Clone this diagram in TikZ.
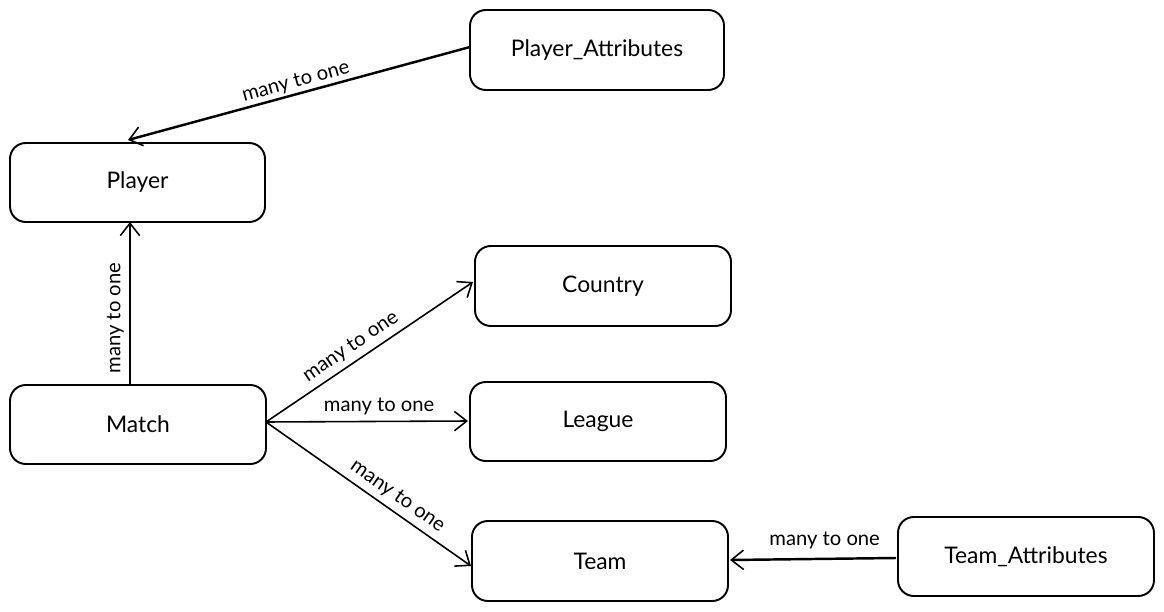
\documentclass[tikz,border=0pt]{standalone}
\usepackage{fontspec}
\setmainfont{Lato}
\usetikzlibrary{arrows.meta}
\begin{document}
\begin{tikzpicture}[x=0.02cm,y=-0.02cm,
  box/.style={draw,line width=1.1pt,rounded corners=9pt,inner sep=0pt,
    font=\fontsize{13}{15}\selectfont},
  rel/.style={line width=0.9pt,-{Straight Barb[length=7pt,width=11pt,line width=0.9pt]}},
  lbl/.style={font=\fontsize{11.5}{13}\selectfont,inner sep=1pt}]
\useasboundingbox (0,0) rectangle (1164,612);
\node[box,minimum width=254*0.02cm,minimum height=80*0.02cm] (pa) at (597,50) {Player\_Attributes};
\node[box,minimum width=255*0.02cm,minimum height=79*0.02cm] (pl) at (137.5,182.5) {Player};
\node[box,minimum width=256*0.02cm,minimum height=80*0.02cm] (co) at (603,286) {Country};
\node[box,minimum width=256*0.02cm,minimum height=79*0.02cm] (ma) at (138,424.5) {Match};
\node[box,minimum width=256*0.02cm,minimum height=79*0.02cm] (le) at (598,421.5) {League};
\node[box,minimum width=256*0.02cm,minimum height=80*0.02cm] (te) at (600,561) {Team};
\node[box,minimum width=256*0.02cm,minimum height=79*0.02cm] (ta) at (1026,556.5) {Team\_Attributes};
\coordinate (paw) at (470,47);
\coordinate (pln) at (128,140);
\coordinate (man) at (130,385);
\coordinate (pls) at (130,222);
\coordinate (mae) at (266,422);
\coordinate (cow) at (473,282);
\coordinate (lew) at (468,421);
\coordinate (tew) at (471,566);
\coordinate (taw) at (896,558);
\coordinate (tee) at (730,560);
\draw[rel,line width=1.4pt] (paw) -- (pln) node[lbl,pos=0.5,above,sloped] {many to one};
\draw[rel] (man) -- (pls) node[lbl,pos=0.41,above=2pt,sloped] {many to one};
\draw[rel] (mae) -- (cow) node[lbl,pos=0.45,above=2pt,sloped] {many to one};
\draw[rel] (mae) -- (lew) node[lbl,pos=0.56,above=2pt] {many to one};
\draw[rel] (mae) -- (tew) node[lbl,pos=0.6,above=2pt,sloped] {many to one};
\draw[rel,line width=1.4pt] (taw) -- (tee) node[lbl,pos=0.43,above=4pt] {many to one};
\end{tikzpicture}
\end{document}
